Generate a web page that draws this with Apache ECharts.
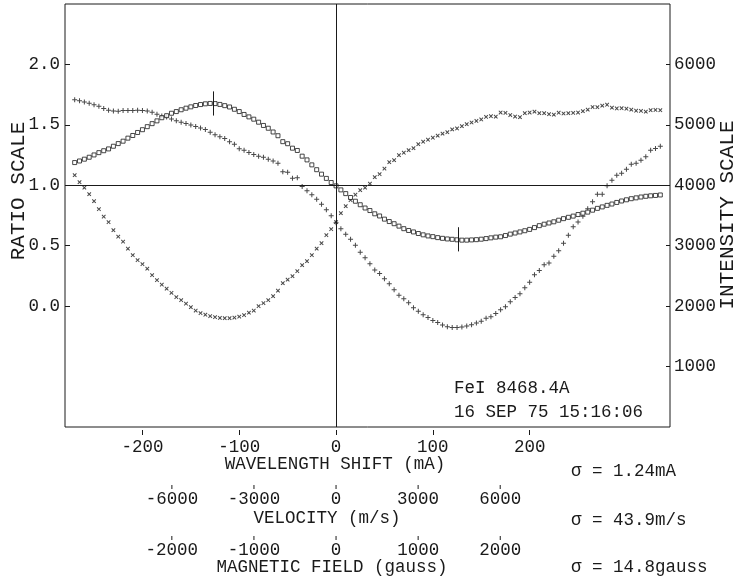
<!DOCTYPE html>
<html>
<head>
<meta charset="utf-8">
<script src="https://cdn.jsdelivr.net/npm/echarts@6/dist/echarts.min.js"></script>
<style>
html,body{margin:0;padding:0;background:#fff;}
#chart{width:738px;height:582px;}
</style>
</head>
<body>
<div id="chart"></div>
<script>
// ---- data ----
const shift = [-270,-265,-260,-255,-250,-245,-240,-235,-230,-225,-220,-215,-210,-205,-200,-195,-190,-185,-180,-175,
  -170,-165,-160,-155,-150,-145,-140,-135,-130,-125,-120,-115,-110,-105,-100,-95,-90,-85,-80,-75,
  -70,-65,-60,-55,-50,-45,-40,-35,-30,-25,-20,-15,-10,-5,0,5,10,15,20,25,
  30,35,40,45,50,55,60,65,70,75,80,85,90,95,100,105,110,115,120,125,
  130,135,140,145,150,155,160,165,170,175,180,185,190,195,200,205,210,215,220,225,
  230,235,240,245,250,255,260,265,270,275,280,285,290,295,300,305,310,315,320,325,330,335];

// ratio (squares, left axis)
const ratio = [1.188,1.201,1.216,1.232,1.251,1.270,1.286,1.301,1.323,1.345,1.365,1.390,1.412,1.437,1.460,1.485,1.510,1.533,1.559,1.576,
  1.596,1.610,1.625,1.638,1.649,1.660,1.668,1.674,1.677,1.676,1.669,1.659,1.648,1.629,1.610,1.586,1.566,1.547,1.522,1.495,
  1.472,1.441,1.410,1.361,1.344,1.307,1.288,1.241,1.210,1.169,1.129,1.092,1.057,1.023,0.995,0.962,0.931,0.899,0.868,0.839,
  0.812,0.791,0.764,0.746,0.720,0.700,0.682,0.662,0.641,0.626,0.614,0.601,0.590,0.581,0.575,0.567,0.561,0.556,0.553,0.549,
  0.546,0.546,0.548,0.550,0.554,0.559,0.565,0.571,0.574,0.584,0.596,0.605,0.614,0.624,0.635,0.650,0.666,0.678,0.688,0.698,
  0.711,0.724,0.735,0.745,0.758,0.769,0.778,0.794,0.809,0.821,0.834,0.845,0.858,0.870,0.880,0.889,0.896,0.903,0.909,0.913,0.916,0.920];

// intensity of "+" profile (right axis)
const plusIntensity = [5414,5401,5378,5358,5333,5309,5271,5242,5231,5226,5237,5237,5237,5242,5239,5229,5209,5176,5146,5130,
  5098,5069,5044,5022,4999,4973,4948,4923,4878,4837,4804,4774,4721,4680,4606,4581,4543,4510,4481,4462,
  4432,4402,4366,4222,4217,4117,4126,3980,3911,3844,3770,3687,3596,3497,3381,3282,3191,3108,3009,2893,
  2802,2703,2599,2541,2455,2372,2273,2182,2124,2058,1975,1917,1859,1810,1763,1730,1686,1661,1648,1648,
  1653,1672,1694,1719,1752,1801,1823,1879,1942,1992,2074,2141,2207,2306,2397,2521,2591,2687,2715,2827,
  2918,3042,3175,3315,3393,3489,3613,3729,3853,3853,3993,4084,4167,4200,4266,4349,4366,4415,4473,4581,4609,4647];

// intensity of "x" profile (right axis)
const crossIntensity = [4167,4051,3960,3853,3737,3605,3481,3390,3257,3150,3067,2951,2844,2761,2695,2620,2513,2430,2356,2289,
  2220,2149,2099,2041,1983,1926,1884,1858,1835,1818,1805,1801,1801,1810,1826,1851,1892,1926,2000,2050,
  2099,2165,2256,2380,2438,2496,2579,2678,2744,2844,2951,3042,3175,3274,3390,3538,3654,3754,3844,3919,
  3960,4027,4134,4184,4275,4382,4415,4498,4539,4581,4614,4680,4721,4754,4787,4821,4854,4878,4924,4940,
  4978,5011,5039,5064,5089,5132,5143,5135,5204,5198,5163,5138,5127,5193,5204,5218,5193,5193,5176,5168,
  5201,5188,5193,5198,5204,5226,5251,5295,5292,5317,5333,5284,5271,5275,5267,5251,5234,5231,5218,5242,5246,5242];

// extrema markers of the ratio curve
const extremaShift = [-127, 126];
const extremaRatio = [1.677, 0.553];
const extremaHalf = 0.1;

// axis ranges & ticks
const shiftMin = -280, shiftMax = 345;
const velPerMA = 35.38;      // m/s per mA
const gaussPerMA = 11.79;    // gauss per mA
const shiftTicks = [-200,-100,0,100,200];
const velTicks = [-6000,-3000,0,3000,6000];
const fieldTicks = [-2000,-1000,0,1000,2000];
const ratioTicks = [0,0.5,1,1.5,2];
const intensityTicks = [1000,2000,3000,4000,5000,6000];
const ratioMin = -1, ratioMax = 2.5;
const intMin = 0, intMax = 7000;

// ---- chart ----
const FONT = 'Liberation Mono, DejaVu Sans Mono, monospace';
const INK = '#1a1a1a';
const chart = echarts.init(document.getElementById('chart'), null, {renderer:'canvas'});

const pair = (a) => shift.map((x, i) => [x, a[i]]);
const plusPath = 'path://M-0.8,-4H0.8V-0.8H4V0.8H0.8V4H-0.8V0.8H-4V-0.8H-0.8Z';
const plain = (v) => String(Math.round(v));
// label with a small tick mark drawn above the number
const tickedLabel = (v) => '{t|}\n{v|' + Math.round(v) + '}';

// main axis (ticks drawn by the axis)
const mainAxis = {
  type: 'value', position: 'bottom', min: shiftMin, max: shiftMax, offset: 3,
  axisLine: {show: false, onZero: false},
  splitLine: {show: false},
  axisTick: {show: true, length: 5, customValues: shiftTicks, lineStyle: {color: INK, width: 1}},
  axisLabel: {show: true, customValues: shiftTicks, margin: 8, color: INK, fontFamily: FONT, fontSize: 17.5, formatter: plain}
};
// secondary axes: tick mark is part of the label
function secAx(min, max, ticks, offset) {
  return {
    type: 'value', position: 'bottom', min: min, max: max, offset: offset,
    axisLine: {show: false, onZero: false},
    splitLine: {show: false},
    axisTick: {show: false},
    axisLabel: {
      show: true, customValues: ticks, margin: 1, formatter: tickedLabel,
      color: INK, fontFamily: FONT, fontSize: 17.5,
      rich: {
        t: {width: 1, height: 4, lineHeight: 6, backgroundColor: INK},
        v: {color: INK, fontFamily: FONT, fontSize: 17.5, lineHeight: 18}
      }
    }
  };
}

const markLines = [{xAxis: 0}, {yAxis: 1}];
extremaShift.forEach((s, i) => {
  markLines.push([{coord: [s, extremaRatio[i] - extremaHalf]}, {coord: [s, extremaRatio[i] + extremaHalf]}]);
});

const text = (t, x, y, opts) => Object.assign({
  type: 'text', x: x, y: y, silent: true,
  style: {text: t, fill: INK, font: '17.5px ' + FONT, textAlign: 'left', textVerticalAlign: 'middle'}
}, opts || {});

chart.setOption({
  animation: false,
  backgroundColor: '#fff',
  grid: {left: 65, right: 68, top: 4, bottom: 155, show: true, borderColor: INK, borderWidth: 1, backgroundColor: 'transparent'},
  xAxis: [
    mainAxis,
    secAx(shiftMin * velPerMA, shiftMax * velPerMA, velTicks, 56),
    secAx(shiftMin * gaussPerMA, shiftMax * gaussPerMA, fieldTicks, 107)
  ],
  yAxis: [
    {type: 'value', position: 'left', min: ratioMin, max: ratioMax,
     axisLine: {show: false, onZero: false}, splitLine: {show: false},
     axisTick: {show: true, inside: true, length: 5, customValues: ratioTicks, lineStyle: {color: INK}},
     axisLabel: {customValues: ratioTicks, margin: 5, color: INK, fontFamily: FONT, fontSize: 17.5, formatter: v => v.toFixed(1)}},
    {type: 'value', position: 'right', min: intMin, max: intMax,
     axisLine: {show: false, onZero: false}, splitLine: {show: false},
     axisTick: {show: true, inside: true, length: 4, customValues: intensityTicks, lineStyle: {color: INK}},
     axisLabel: {customValues: intensityTicks, margin: 4, color: INK, fontFamily: FONT, fontSize: 17.5, formatter: plain}}
  ],
  series: [
    {type: 'scatter', name: 'plus', xAxisIndex: 0, yAxisIndex: 1, data: pair(plusIntensity),
     symbol: plusPath, symbolSize: 5, itemStyle: {color: INK}, silent: true},
    {type: 'scatter', name: 'cross', xAxisIndex: 0, yAxisIndex: 1, data: pair(crossIntensity),
     symbol: plusPath, symbolRotate: 45, symbolSize: 5, itemStyle: {color: INK}, silent: true},
    {type: 'scatter', name: 'ratio', xAxisIndex: 0, yAxisIndex: 0, data: pair(ratio),
     symbol: 'rect', symbolSize: 4, itemStyle: {color: '#fff', borderColor: INK, borderWidth: 1}, silent: true,
     markLine: {silent: true, symbol: 'none', label: {show: false},
       lineStyle: {color: INK, width: 1, type: 'solid'}, data: markLines}}
  ],
  graphic: [
    text('RATIO SCALE', 18, 191, {rotation: Math.PI / 2, style: {text: 'RATIO SCALE', fill: INK, font: '21px ' + FONT, textAlign: 'center', textVerticalAlign: 'middle'}}),
    text('INTENSITY SCALE', 727, 215, {rotation: Math.PI / 2, style: {text: 'INTENSITY SCALE', fill: INK, font: '21px ' + FONT, textAlign: 'center', textVerticalAlign: 'middle'}}),
    text('WAVELENGTH SHIFT (mA)', 335, 464, {style: {text: 'WAVELENGTH SHIFT (mA)', fill: INK, font: '17.5px ' + FONT, textAlign: 'center', textVerticalAlign: 'middle'}}),
    text('VELOCITY (m/s)', 327, 518, {style: {text: 'VELOCITY (m/s)', fill: INK, font: '17.5px ' + FONT, textAlign: 'center', textVerticalAlign: 'middle'}}),
    text('MAGNETIC FIELD (gauss)', 332, 567, {style: {text: 'MAGNETIC FIELD (gauss)', fill: INK, font: '17.5px ' + FONT, textAlign: 'center', textVerticalAlign: 'middle'}}),
    text('σ = 1.24mA', 571, 471),
    text('σ = 43.9m/s', 571, 520),
    text('σ = 14.8gauss', 571, 567),
    text('FeI 8468.4A', 454, 388),
    text('16 SEP 75 15:16:06', 454, 412)
  ]
});
</script>
</body>
</html>
